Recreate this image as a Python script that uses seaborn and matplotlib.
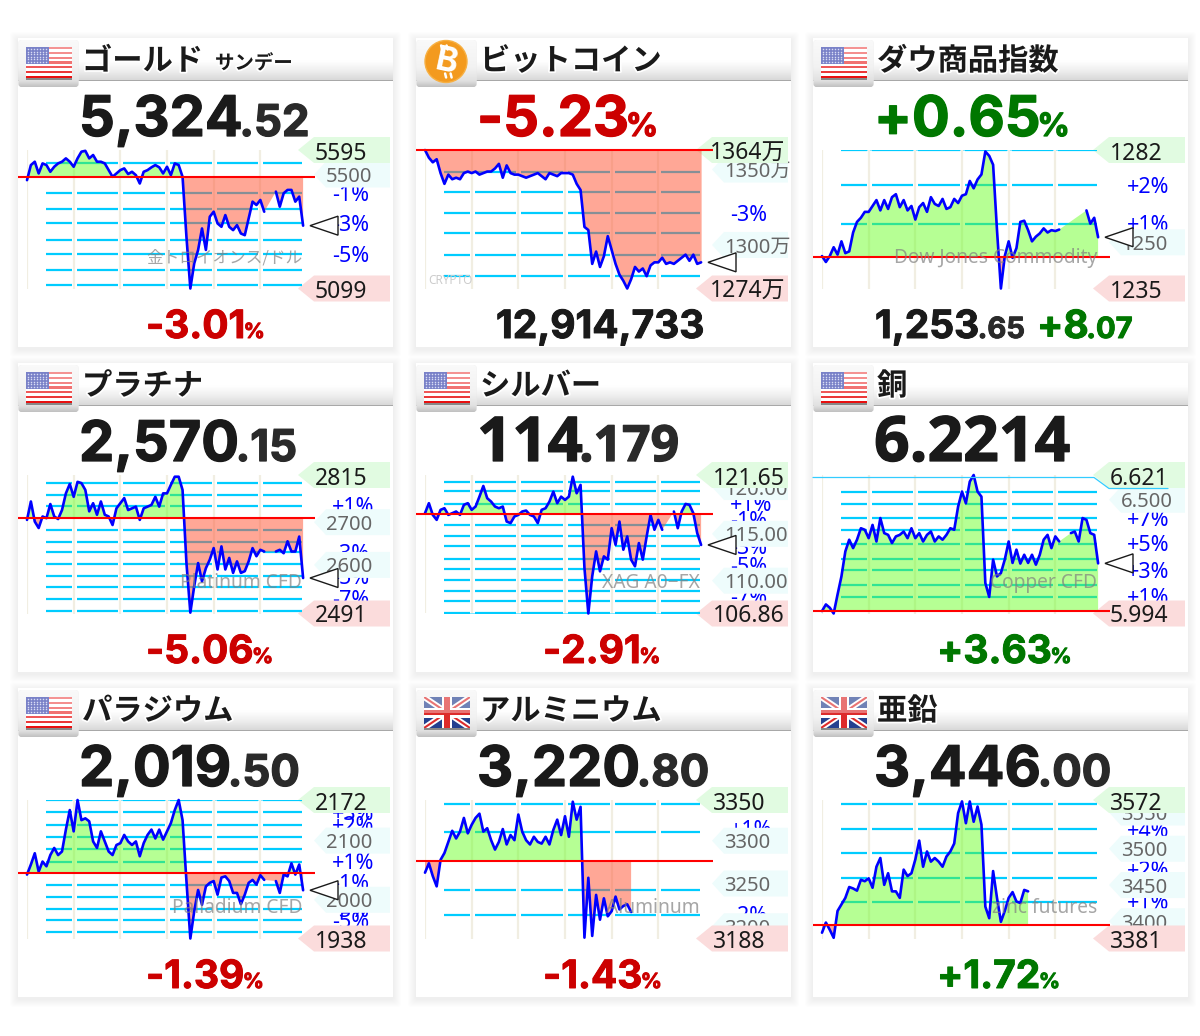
import numpy as np
import pandas as pd
import matplotlib
matplotlib.use("Agg")
import matplotlib.pyplot as plt
import matplotlib.patheffects as pe
from matplotlib.patches import Polygon, FancyBboxPatch, Rectangle, Circle
import seaborn as sns

N = float("nan")

GOLD = [5487,5541,5553,5511,5547,5541,5517,5535,5547,5553,5565,5553,5535,5565,5589,5592,5565,5577,5553,5553,5547,5523,5499,5511,5523,5529,5509,5517,5505,5475,5517,5523,5533,5541,5533,5511,5535,5505,5547,5541,5499,
        5284,5099,5189,5237,5314,5237,5356,5374,5332,5320,5362,5320,5308,5326,5296,5290,5350,5410,5398,5416,5374,N,N,5446,5392,5440,5452,5452,5410,5428,5324]
BITCOIN = [1364,1359,1356,1358,1349,1342,1348,1345,1346,1345,1349,1350,1349,1350,1348,1349,1350,1350,1352,1355,1346,1354,1349,1348,1348,1347,1346,1347,1348,1349,1347,1345,1349,1348,1347,1349,1349,1349,1348,1342,1338,
           1314,1312,1290,1298,1288,1295,1308,1299,1290,1283,1279,1274,1280,1288,1285,1287,1282,1289,1291,1291,1294,1290,1291,1290,1292,1294,1296,1292,1296,1290,1291]
DOW = [1246,1244,1246,1249,1246.5,1251,1247,1247.6,1254,1257.6,1259,1261,1261,1263,1265,1261.5,1265,1262,1266,1267,1262.6,1265,1261.5,1263,1258.4,1262.6,1264,1261,1266,1263.7,1263,1265.4,1262,1262.6,1265.4,1264,1266.5,1267,1271.5,1269,1272,1273.7,1281.5,1280,1277,
       1254.8,1235,1246,1251,1245.4,1248.7,1257.6,1258,1254.8,1251,1252.6,1253.7,1255.4,1254,1254.8,1254.5,1255,N,N,N,N,N,N,1261.5,1257,1259,1252.4]
PLATINUM = [2710,2753,2706,2691,2718,2714,2747,2718,2712,2733,2772,2794,2764,2799,2796,2780,2730,2749,2722,2753,2722,2718,2698,2737,2749,2761,2733,2737,2741,2710,2737,2741,2745,2764,2741,2772,2772,2792,2811,2811,2780,
            2609,2493,2555,2609,2566,2597,2617,2644,2594,2648,2594,2621,2586,2613,2586,2590,2613,2644,2625,2640,2636,N,N,2636,2640,2632,2660,2636,2636,2671,2574]
SILVER = [117.57,118.64,117.39,116.86,117.93,118.10,117.39,117.57,117.75,117.39,118.46,118.64,117.93,118.28,119.34,120.48,119.17,118.81,118.28,118.10,118.28,116.68,116.51,117.22,117.39,117.75,117.85,117.39,117.22,116.51,117.93,118.10,118.81,119.88,118.64,119.34,118.99,119.34,121.47,119.70,120.59,
          111.72,106.86,110.83,113.49,111.36,112.96,112.61,115.97,114.20,116.68,113.67,115.09,112.61,111.90,114.38,112.61,115.09,117.39,115.80,116.86,115.80,N,N,117.75,115.97,117.75,118.56,118.46,117.57,115.44,114.18]
COPPER = [6.005,6.035,6.020,5.994,6.080,6.162,6.275,6.328,6.290,6.328,6.380,6.373,6.335,6.395,6.320,6.426,6.358,6.350,6.313,6.343,6.350,6.365,6.335,6.380,6.335,6.358,6.320,6.350,6.365,6.320,6.343,6.328,6.350,6.380,6.373,6.478,6.546,6.493,6.591,6.621,6.546,6.523,
          6.132,6.069,6.238,6.162,6.177,6.238,6.320,6.223,6.283,6.220,6.260,6.223,6.260,6.215,6.260,6.328,6.350,6.290,6.343,6.320,N,N,6.358,6.365,6.320,6.426,6.418,6.358,6.350,6.221]
PALLADIUM = [2046,2063,2082,2051,2068,2060,2079,2091,2079,2085,2122,2155,2119,2172,2138,2141,2136,2102,2091,2119,2102,2085,2079,2096,2099,2113,2102,2096,2102,2077,2099,2113,2122,2107,2122,2105,2119,2133,2155,2172,2138,
             2035,1938,1984,2020,1995,2026,2032,2035,2012,2041,2043,2035,2015,2015,1996,2012,2032,2037,2029,2045,2037,N,N,2035,2015,2046,2043,2065,2046,2063,2019.5]
ALUMINIUM = [3265,3276,3261,3249,3280,3288,3301,3314,3305,3313,3329,3311,3321,3329,3334,3313,3317,3303,3292,3301,3316,3298,3309,3303,3333,3313,3303,3298,3307,3301,3299,3307,3298,3315,3327,3309,3331,3307,3348,3327,3342,
             3189,3259,3191,3239,3210,3235,3214,3220,3237,3222,3226,3228,3219]
ZINC = [3389,3403,3393,3382,3419,3428,3437,3452,3450,3447,3462,3460,3464,3451,3480,3492,3455,3471,3446,3446,3437,3476,3467,3471,3490,3516,3480,3501,3487,3492,3487,3480,3494,3501,3512,3554,3570,3540,3570,3542,3563,3538,
        3425,3409,3474,3437,3404,3419,3437,3445,3432,3430,3448,3446]

# chart scales: day high, day low, previous close
HIGHS = [5595, 1364, 1282, 2815, 121.65, 6.621, 2172, 3350, 3572]
LOWS = [5099, 1274, 1235, 2491, 106.86, 5.994, 1938, 3188, 3381]
PRIORS = [5499, 1364, 1245.6, 2715, 117.5, 6.005, 2048, 3279, 3399]
HIGH_TEXT = ["5595", "1364万", "1282", "2815", "121.65", "6.621", "2172", "3350", "3572"]
LOW_TEXT = ["5099", "1274万", "1235", "2491", "106.86", "5.994", "1938", "3188", "3381"]

LEVELS = [
    [5550, 5441, 5383, 5332, 5274, 5222, 5165, 5112],
    [1350, 1337, 1323, 1310, 1296, 1282],
    [1282, 1270, 1257],
    [2796, 2768, 2743, 2687, 2658, 2634, 2606, 2578, 2553, 2525, 2496],
    [120.94, 119.95, 118.56, 116.33, 115.09, 114.02, 112.71, 111.65, 110.48, 109.24, 108.17, 106.86],
    [6.546, 6.490, 6.426, 6.373, 6.310, 6.242, 6.189, 6.125, 6.069],
    [2172, 2151, 2130, 2110, 2090, 2068, 2028, 2008, 1987, 1969, 1949],
    [3345, 3312, 3245, 3215],
    [3566, 3532, 3499, 3465, 3432],
]
ROUND_LEVELS = [
    [(5500, "5500")],
    [(1350, "1350万"), (1301, "1300万")],
    [(1250, "1250")],
    [(2700, "2700"), (2600, "2600")],
    [(120.15, "120.00"), (115.15, "115.00"), (110.15, "110.00")],
    [(6.5, "6.500")],
    [(2100, "2100"), (2000, "2000")],
    [(3300, "3300"), (3250, "3250"), (3200, "3200")],
    [(3552, "3550"), (3502, "3500"), (3452, "3450"), (3402, "3400")],
]
PCT_LABELS = [
    [(5441, "-1%"), (5332, "-3%"), (5222, "-5%")],
    [(1323, "-3%")],
    [(1270, "+2%"), (1257, "+1%")],
    [(2743, "+1%"), (2634, "-3%"), (2578, "-5%"), (2525, "-7%")],
    [(118.56, "+1%"), (116.9, "-1%"), (114.02, "-3%"), (112.0, "-5%"), (108.7, "-7%")],
    [(6.426, "+7%"), (6.310, "+5%"), (6.189, "+3%"), (6.069, "+1%")],
    [(2151, "+3%"), (2130, "+2%"), (2068, "+1%"), (2033, "-1%"), (1987, "-3%"), (1969, "-5%")],
    [(3317, "+1%"), (3216, "-2%")],
    [(3532, "+4%"), (3476, "+2%"), (3432, "+1%")],
]
NAMES = ["ゴールド", "ビットコイン", "ダウ商品指数", "プラチナ", "シルバー", "銅", "パラジウム", "アルミニウム", "亜鉛"]
WATERMARKS = ["金トロイオンス/ドル", "CRYPTO", "Dow Jones Commodity", "Platinum CFD", "XAG A0−FX",
              "Copper CFD", "Palladium CFD", "Aluminum", "zinc futures"]
ICONS = ["us", "btc", "us", "us", "us", "us", "us", "uk", "uk"]

BLACK, RED_T, GREEN_T = "#1a1a1a", "#cc0000", "#007700"
BIG, MID, SIGN = 40.3, 31.5, 23
LOW, LOWMID, LOWSIGN = 28, 21, 15
TOP_TEXT = [
    [("5,324", BIG, BLACK), (".52", MID, "#2a2a2a")],
    [("-5.23", BIG, RED_T), ("%", SIGN, RED_T)],
    [("+0.65", BIG, GREEN_T), ("%", SIGN, GREEN_T)],
    [("2,570", BIG, BLACK), (".15", MID, "#2a2a2a")],
    [("114", 44.5, BLACK), (".179", 36, "#2a2a2a")],
    [("6.2214", 45, BLACK)],
    [("2,019", BIG, BLACK), (".50", MID, "#2a2a2a")],
    [("3,220", BIG, BLACK), (".80", MID, "#2a2a2a")],
    [("3,446", BIG, BLACK), (".00", MID, "#2a2a2a")],
]
TOP_FONT = ["Inter", "Inter", "Inter", "Inter", "Open Sans", "Open Sans", "Inter", "Inter", "Inter"]
BOTTOM_TEXT = [
    [("-3.01", LOW, RED_T), ("%", LOWSIGN, RED_T)],
    [("12,914,733", LOW, BLACK)],
    [("1,253", LOW, BLACK), (".65", LOWMID, "#2a2a2a")],
    [("-5.06", LOW, RED_T), ("%", LOWSIGN, RED_T)],
    [("-2.91", LOW, RED_T), ("%", LOWSIGN, RED_T)],
    [("+3.63", LOW, GREEN_T), ("%", LOWSIGN, GREEN_T)],
    [("-1.39", LOW, RED_T), ("%", LOWSIGN, RED_T)],
    [("-1.43", LOW, RED_T), ("%", LOWSIGN, RED_T)],
    [("+1.72", LOW, GREEN_T), ("%", LOWSIGN, GREEN_T)],
]
BOTTOM_LEFT = [128, 80, 62, 128, 127, 124, 128, 127, 124]
SERIES = [GOLD, BITCOIN, DOW, PLATINUM, SILVER, COPPER, PALLADIUM, ALUMINIUM, ZINC]
GRID_HOURS = [0, 4, 8, 12, 16, 20]

CARD_X = [18, 416, 813]
CARD_Y = [38, 363, 688]
CARD_W, CARD_H = 375, 309
W, H = 1200, 1036

sns.set_theme(style="white")
plt.rcParams["font.family"] = ["Noto Sans", "Noto Sans CJK JP", "DejaVu Sans"]
CJK = ["Noto Sans CJK JP", "DejaVu Sans"]
NUM = "Inter"

fig = plt.figure(figsize=(W / 100, H / 100), dpi=100, facecolor="white")
rend = fig.canvas.get_renderer()


def layer(z):
    a = fig.add_axes([0, 0, 1, 1], zorder=z)
    a.set_xlim(0, W)
    a.set_ylim(H, 0)
    a.set_autoscale_on(False)
    a.axis("off")
    a.patch.set_alpha(0)
    return a


bg, under, over = layer(0), layer(1), layer(3)


def gradient(ax, x0, y0, x1, y1, stops, clip=None, z=2):
    n = 64
    t = np.linspace(0, 1, n)
    pos = [s[0] for s in stops]
    arr = np.zeros((n, 1, 3))
    for c in range(3):
        arr[:, 0, c] = np.interp(t, pos, [s[1][c] for s in stops])
    im = ax.imshow(arr, extent=(x0, x1, y1, y0), aspect="auto", zorder=z, interpolation="bilinear")
    if clip is not None:
        im.set_clip_path(clip)
    return im


def parts(ax, x, y, items, family=None, halo=None, thicken=0.0, gap=1, z=5):
    for txt, size, color in items:
        t = ax.text(x, y, txt, fontsize=size, color=color, va="baseline", ha="left",
                    fontweight="bold", zorder=z, **({"family": family} if family else {}))
        if halo:
            t.set_path_effects(halo)
        elif thicken:
            t.set_path_effects([pe.withStroke(linewidth=thicken, foreground=color)])
        x = t.get_window_extent(rend).x1 + gap
    return x


def us_flag(ax, x, y):
    w, h = 46, 31
    ax.add_patch(Rectangle((x, y), w, h, fc="white", ec="none", zorder=4))
    sh = h / 13
    for k in range(0, 13, 2):
        a = 0.45 + 0.55 * (k / 12) ** 2
        ax.add_patch(Rectangle((x, y + k * sh), w, sh, fc="#e81010", ec="none", alpha=a, zorder=5))
    ax.add_patch(Rectangle((x, y), w * 0.5, sh * 7, fc="#7a82c8", ec="none", zorder=6))
    xs, ys = np.meshgrid(np.arange(x + 2, x + w * 0.5, 3), np.arange(y + 2, y + sh * 7, 2.6))
    ax.scatter(xs.ravel(), ys.ravel(), s=1.2, c="#d8dcf4", linewidths=0, zorder=7)
    ax.add_patch(Rectangle((x, y + h), w, 1.5, fc="#888888", ec="none", zorder=5))


def uk_flag(ax, x, y):
    w, h = 46, 31
    box = Rectangle((x, y), w, h, fc="#24408f", ec="none", zorder=4)
    ax.add_patch(box)
    for (a, b, c, d) in [(x, y, x + w, y + h), (x, y + h, x + w, y)]:
        for col, lw, z in [("white", 4.2, 5), ("#dd2b2b", 1.5, 6)]:
            ln, = ax.plot([a, c], [b, d], color=col, lw=lw, zorder=z, solid_capstyle="butt")
            ln.set_clip_path(box)
    ax.add_patch(Rectangle((x + w / 2 - 5, y), 10, h, fc="white", ec="none", zorder=7))
    ax.add_patch(Rectangle((x, y + h / 2 - 5), w, 10, fc="white", ec="none", zorder=7))
    ax.add_patch(Rectangle((x + w / 2 - 2.8, y), 5.6, h, fc="#dd2b2b", ec="none", zorder=8))
    ax.add_patch(Rectangle((x, y + h / 2 - 2.8), w, 5.6, fc="#dd2b2b", ec="none", zorder=8))
    ax.add_patch(Rectangle((x, y), w, h * 0.5, fc="white", ec="none", alpha=0.35, zorder=9))
    ax.add_patch(Rectangle((x, y + h), w, 1.5, fc="#888888", ec="none", zorder=5))


def btc_icon(ax, cx, cy):
    ax.add_patch(Circle((cx, cy), 21, fc="#f39a1e", ec="#f7b043", lw=1, zorder=5))
    ax.text(cx, cy + 0.5, "B", color="white", fontsize=24, fontweight="bold", rotation=-12,
            ha="center", va="center", zorder=8, family="Inter")
    for dx in (-2.5, 3):
        ax.plot([cx + dx - 2.4, cx + dx - 1.4], [cy - 16, cy - 12], color="white", lw=1.8, zorder=8)
        ax.plot([cx + dx + 1.6, cx + dx + 2.6], [cy + 12, cy + 16], color="white", lw=1.8, zorder=8)


FILL_GREEN = (101 / 255, 1, 30 / 255)
FILL_RED = (1, 90 / 255, 58 / 255)

for i, values in enumerate(SERIES):
    cx, cy = CARD_X[i % 3], CARD_Y[i // 3]
    hi, lo, prior = HIGHS[i], LOWS[i], PRIORS[i]
    top, bot = cy + 112, cy + 250.5

    def ypx(v):
        return top + (hi - v) / (hi - lo) * (bot - top)

    # card, soft shadow
    for k in range(1, 9):
        bg.add_patch(FancyBboxPatch((cx - k, cy - k + 2), CARD_W + 2 * k, CARD_H + 2 * k,
                                    boxstyle="round,pad=0,rounding_size=3", fc="black", ec="none",
                                    alpha=0.009, zorder=1))
    bg.add_patch(Rectangle((cx, cy), CARD_W, CARD_H, fc="white", ec="none", zorder=1.5))
    gradient(bg, cx, cy, cx + CARD_W, cy + 42,
             [(0, (1, 1, 1)), (0.55, (1, 1, 1)), (0.8, (0.93, 0.93, 0.93)), (1, (0.85, 0.85, 0.85))])
    bg.add_patch(Rectangle((cx, cy + 41.5), CARD_W, 1.2, fc="#a8a8a8", ec="none", zorder=3))
    tab = FancyBboxPatch((cx + 0.5, cy + 2), 60, 47, boxstyle="round,pad=0,rounding_size=3",
                         fc="#e8e8e8", ec="none", zorder=3)
    bg.add_patch(tab)
    gradient(bg, cx, cy, cx + 61, cy + 49,
             [(0, (0.98, 0.98, 0.98)), (0.6, (0.95, 0.95, 0.95)), (0.88, (0.88, 0.88, 0.88)), (1, (0.76, 0.76, 0.76))],
             clip=tab, z=3.5)

    if ICONS[i] == "us":
        us_flag(bg, cx + 8, cy + 9)
    elif ICONS[i] == "uk":
        uk_flag(bg, cx + 8, cy + 9)
    else:
        btc_icon(bg, cx + 30, cy + 23.5)

    halo = [pe.withStroke(linewidth=2.5, foreground="white")]
    parts(over, cx + 64, cy + 32, [(NAMES[i], 21.8, "#1a1a1a")], family=CJK, halo=halo)
    if i == 0:
        parts(over, cx + 197, cy + 31, [("サンデー", 14, "#1a1a1a")], family=CJK, halo=halo)

    parts(over, cx + 61, cy + 98, TOP_TEXT[i], family=TOP_FONT[i], thicken=0.9, gap=-3.5)
    parts(over, cx + BOTTOM_LEFT[i], cy + 300, BOTTOM_TEXT[i], family=NUM, thicken=0.7, gap=-1.5)
    if i == 2:
        parts(over, cx + 224, cy + 300, [("+8", LOW, GREEN_T), (".07", LOWMID, GREEN_T)], family=NUM, thicken=0.7, gap=-2.5)

    # right-hand tags: percentages, round levels, then high / low tags on top
    for v, s in PCT_LABELS[i]:
        under.text(cx + 314, ypx(v) + 7.5, s, color="#0000ff", fontsize=15.5, va="baseline", zorder=2)
    for n, (v, s) in enumerate(ROUND_LEVELS[i]):
        y = ypx(v) - 2
        z = 3 + n * 0.1
        under.add_patch(Polygon([(cx + 296, y), (cx + 308, y - 13), (cx + 372, y - 13), (cx + 372, y + 13), (cx + 308, y + 13)],
                                fc="#eefcfc", ec="none", zorder=z))
        under.text(cx + 308, y + 7.5, s, color="#666666", fontsize=14.5, va="baseline", zorder=z + 0.05)
    for y, col in [(top, "#e1fbe1"), (bot, "#fbdcdc")]:
        under.add_patch(Polygon([(cx + 280, y), (cx + 296, y - 13), (cx + 372, y - 13), (cx + 372, y + 13), (cx + 296, y + 13)],
                                fc=col, ec="none", zorder=5))
    tag_x = cx + (294 if i == 1 else 297)
    over.text(tag_x, top + 10, HIGH_TEXT[i], color="#1a1a1a", fontsize=16.5, va="baseline", zorder=4)
    over.text(tag_x, bot + 9, LOW_TEXT[i], color="#1a1a1a", fontsize=16.5, va="baseline", zorder=4)

    # the chart itself
    ax = fig.add_axes([(cx + 9) / W, 1 - bot / H, 280 / W, (bot - top) / H], zorder=2)
    ax.patch.set_alpha(0)
    frame = pd.DataFrame({"hour": np.arange(len(values)) / 3, "price": values})
    filled = frame["price"].interpolate()
    ax.hlines(LEVELS[i], 1.66, 23.6, colors="#00ccff", lw=1.6, zorder=1)
    ax.vlines(GRID_HOURS, lo, hi, colors="white", lw=3.6, zorder=2)
    ax.vlines(GRID_HOURS, lo, hi, colors="#f1eee2", lw=1.6, zorder=3)
    ax.fill_between(frame["hour"], filled, prior, where=filled >= prior, interpolate=True,
                    color=FILL_GREEN, alpha=0.475, lw=0, zorder=4)
    ax.fill_between(frame["hour"], filled, prior, where=filled <= prior, interpolate=True,
                    color=FILL_RED, alpha=0.53, lw=0, zorder=4)
    seg = frame["price"].isna().cumsum()
    for _, part in frame.dropna().groupby(seg):
        sns.lineplot(data=part, x="hour", y="price", ax=ax, color="#0000ff", lw=1.9, estimator=None,
                     errorbar=None, legend=False, zorder=6, clip_on=False)
    ax.hlines(prior, -0.77, 24.69, colors="#ff0000", lw=1.5, zorder=7, clip_on=False)
    ax.set_xlim(0, 24)
    ax.set_ylim(lo, hi)
    ax.axis("off")

    if i == 5:
        yl = top + 2.5
        over.plot([cx, cx + 281, cx + 296, cx + 355], [yl, yl, yl + 11, yl + 11], color="#33ccff", lw=0.9, zorder=2)

    # watermark and current-price arrow
    if i == 1:
        over.text(cx + 12, cy + 242, WATERMARKS[i], color="#cccccc", fontsize=8.5, va="center", zorder=3)
    else:
        over.text(cx + 284, cy + 220, WATERMARKS[i], color="#808080", alpha=0.7,
                  fontsize=12 if i == 0 else 13.8, ha="right",
                  va="center", zorder=3, family=CJK if i == 0 else "Noto Sans")
    if i not in (7, 8):
        last = frame["price"].dropna().iloc[-1]
        ya = ypx(last)
        over.add_patch(Polygon([(cx + 292, ya), (cx + 320, ya - 9.5), (cx + 320, ya + 9.5)],
                               fc="white", ec="#1a1a1a", lw=1, zorder=6))

fig.savefig("out.png", dpi=100, facecolor="white")
